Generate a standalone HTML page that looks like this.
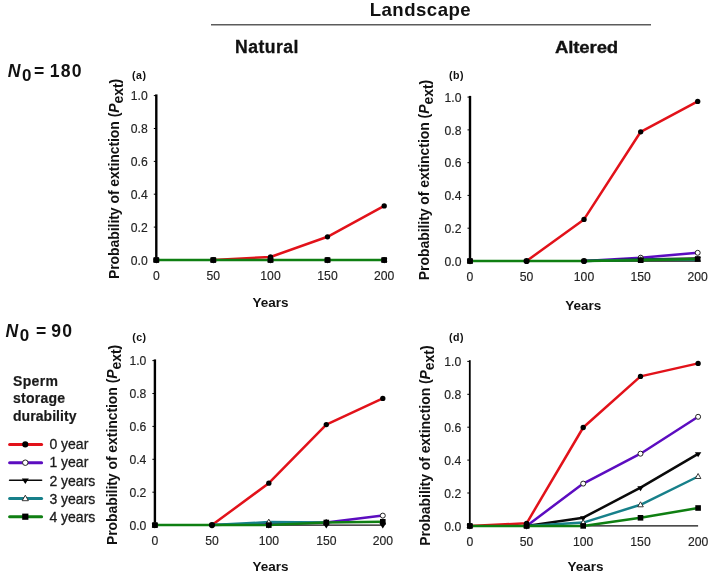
<!DOCTYPE html>
<html><head><meta charset="utf-8"><style>
html,body{margin:0;padding:0;background:#fff;}
svg{display:block;will-change:transform;}
text{font-family:"Liberation Sans", sans-serif;}
.tl{font-size:12.2px;fill:#222;stroke:#222;stroke-width:0.15px;}
.pl{font-size:10.6px;font-weight:bold;fill:#111;letter-spacing:0.5px;}
.yt{font-size:14px;font-weight:bold;fill:#111;}
.sub{font-size:14px;}
.xt{font-size:13.5px;font-weight:bold;fill:#111;}
.hd{font-size:17px;font-weight:bold;fill:#111;}
.hd2{font-size:18.6px;font-weight:bold;fill:#111;}
.nl{font-size:17.6px;font-weight:bold;fill:#111;}
.nsub{font-size:17px;font-weight:bold;fill:#111;}
.lt{font-size:14px;font-weight:bold;fill:#1a1a1a;stroke:#1a1a1a;stroke-width:0.2px;}
.lg{font-size:14px;fill:#1a1a1a;stroke:#1a1a1a;stroke-width:0.3px;}
</style></head><body>
<svg width="709" height="574" viewBox="0 0 709 574">
<line x1="156.3" y1="94.4" x2="156.3" y2="260.0" stroke="#000" stroke-width="2.4"/>
<line x1="156.3" y1="260.0" x2="384.2" y2="260.0" stroke="#111" stroke-width="1.3"/>
<line x1="153.8" y1="260.0" x2="156.3" y2="260.0" stroke="#000" stroke-width="1"/>
<text x="147.8" y="264.7" class="tl" text-anchor="end">0.0</text>
<line x1="153.8" y1="227.1" x2="156.3" y2="227.1" stroke="#000" stroke-width="1"/>
<text x="147.8" y="231.8" class="tl" text-anchor="end">0.2</text>
<line x1="153.8" y1="194.2" x2="156.3" y2="194.2" stroke="#000" stroke-width="1"/>
<text x="147.8" y="198.9" class="tl" text-anchor="end">0.4</text>
<line x1="153.8" y1="161.4" x2="156.3" y2="161.4" stroke="#000" stroke-width="1"/>
<text x="147.8" y="166.1" class="tl" text-anchor="end">0.6</text>
<line x1="153.8" y1="128.5" x2="156.3" y2="128.5" stroke="#000" stroke-width="1"/>
<text x="147.8" y="133.2" class="tl" text-anchor="end">0.8</text>
<line x1="153.8" y1="95.6" x2="156.3" y2="95.6" stroke="#000" stroke-width="1"/>
<text x="147.8" y="100.3" class="tl" text-anchor="end">1.0</text>
<text x="156.3" y="279.6" class="tl" text-anchor="middle">0</text>
<text x="213.3" y="279.6" class="tl" text-anchor="middle">50</text>
<text x="270.5" y="279.6" class="tl" text-anchor="middle">100</text>
<text x="327.5" y="279.6" class="tl" text-anchor="middle">150</text>
<text x="384.2" y="279.6" class="tl" text-anchor="middle">200</text>
<polyline points="213.3,260.0 270.5,257.0 327.5,236.8 384.2,205.9" fill="none" stroke="#e2121a" stroke-width="2.5" stroke-linejoin="round"/>
<polyline points="156.3,260.0 213.3,260.0 270.5,260.0 327.5,260.0 384.2,260.0" fill="none" stroke="#0f7f12" stroke-width="2.5" stroke-linejoin="round"/>
<circle cx="156.3" cy="260.0" r="2.67" fill="#000"/>
<circle cx="213.3" cy="260.0" r="2.67" fill="#000"/>
<circle cx="270.5" cy="257.0" r="2.67" fill="#000"/>
<circle cx="327.5" cy="236.8" r="2.67" fill="#000"/>
<circle cx="384.2" cy="205.9" r="2.67" fill="#000"/>
<circle cx="156.3" cy="260.0" r="2.50" fill="#fff" stroke="#222" stroke-width="1"/>
<circle cx="213.3" cy="260.0" r="2.50" fill="#fff" stroke="#222" stroke-width="1"/>
<circle cx="270.5" cy="260.0" r="2.50" fill="#fff" stroke="#222" stroke-width="1"/>
<circle cx="327.5" cy="260.0" r="2.50" fill="#fff" stroke="#222" stroke-width="1"/>
<circle cx="384.2" cy="260.0" r="2.50" fill="#fff" stroke="#222" stroke-width="1"/>
<path d="M153.1 258.5L159.5 258.5L156.3 263.5Z" fill="#000"/>
<path d="M210.1 258.5L216.5 258.5L213.3 263.5Z" fill="#000"/>
<path d="M267.3 258.5L273.7 258.5L270.5 263.5Z" fill="#000"/>
<path d="M324.3 258.5L330.7 258.5L327.5 263.5Z" fill="#000"/>
<path d="M381.0 258.5L387.4 258.5L384.2 263.5Z" fill="#000"/>
<path d="M153.5 262.0L159.1 262.0L156.3 257.0Z" fill="#fff" stroke="#222" stroke-width="0.9"/>
<path d="M210.5 262.0L216.1 262.0L213.3 257.0Z" fill="#fff" stroke="#222" stroke-width="0.9"/>
<path d="M267.7 262.0L273.3 262.0L270.5 257.0Z" fill="#fff" stroke="#222" stroke-width="0.9"/>
<path d="M324.7 262.0L330.3 262.0L327.5 257.0Z" fill="#fff" stroke="#222" stroke-width="0.9"/>
<path d="M381.4 262.0L387.0 262.0L384.2 257.0Z" fill="#fff" stroke="#222" stroke-width="0.9"/>
<rect x="153.5" y="257.2" width="5.6" height="5.6" fill="#000"/>
<rect x="210.5" y="257.2" width="5.6" height="5.6" fill="#000"/>
<rect x="267.7" y="257.2" width="5.6" height="5.6" fill="#000"/>
<rect x="324.7" y="257.2" width="5.6" height="5.6" fill="#000"/>
<rect x="381.4" y="257.2" width="5.6" height="5.6" fill="#000"/>
<text x="132" y="79.3" class="pl">(a)</text>
<text transform="translate(118.6,178.9) rotate(-90)" class="yt" text-anchor="middle" textLength="200.4" lengthAdjust="spacing">Probability of extinction (<tspan font-style="italic">P</tspan><tspan class="sub" dy="4">ext</tspan><tspan dy="-2.5">)</tspan></text>
<text x="270.6" y="306.8" class="xt" text-anchor="middle">Years</text>
<line x1="470.0" y1="95.9" x2="470.0" y2="261.0" stroke="#000" stroke-width="2.4"/>
<line x1="470.0" y1="261.0" x2="697.7" y2="261.0" stroke="#111" stroke-width="1.3"/>
<line x1="467.5" y1="261.0" x2="470.0" y2="261.0" stroke="#000" stroke-width="1"/>
<text x="461.5" y="265.7" class="tl" text-anchor="end">0.0</text>
<line x1="467.5" y1="228.2" x2="470.0" y2="228.2" stroke="#000" stroke-width="1"/>
<text x="461.5" y="232.9" class="tl" text-anchor="end">0.2</text>
<line x1="467.5" y1="195.4" x2="470.0" y2="195.4" stroke="#000" stroke-width="1"/>
<text x="461.5" y="200.1" class="tl" text-anchor="end">0.4</text>
<line x1="467.5" y1="162.7" x2="470.0" y2="162.7" stroke="#000" stroke-width="1"/>
<text x="461.5" y="167.4" class="tl" text-anchor="end">0.6</text>
<line x1="467.5" y1="129.9" x2="470.0" y2="129.9" stroke="#000" stroke-width="1"/>
<text x="461.5" y="134.6" class="tl" text-anchor="end">0.8</text>
<line x1="467.5" y1="97.1" x2="470.0" y2="97.1" stroke="#000" stroke-width="1"/>
<text x="461.5" y="101.8" class="tl" text-anchor="end">1.0</text>
<text x="470.0" y="280.6" class="tl" text-anchor="middle">0</text>
<text x="526.6" y="280.6" class="tl" text-anchor="middle">50</text>
<text x="584.0" y="280.6" class="tl" text-anchor="middle">100</text>
<text x="640.7" y="280.6" class="tl" text-anchor="middle">150</text>
<text x="697.7" y="280.6" class="tl" text-anchor="middle">200</text>
<polyline points="526.6,261.0 584.0,219.4 640.7,131.8 697.7,101.4" fill="none" stroke="#e2121a" stroke-width="2.5" stroke-linejoin="round"/>
<polyline points="584.0,261.0 640.7,257.7 697.7,252.8" fill="none" stroke="#5c0cc0" stroke-width="2.5" stroke-linejoin="round"/>
<polyline points="584.0,261.0 640.7,259.4 697.7,258.5" fill="none" stroke="#0a0a0a" stroke-width="2.5" stroke-linejoin="round"/>
<polyline points="584.0,261.0 640.7,259.7 697.7,259.4" fill="none" stroke="#17808a" stroke-width="2.5" stroke-linejoin="round"/>
<polyline points="470.0,261.0 526.6,261.0 584.0,261.0 640.7,260.2 697.7,259.0" fill="none" stroke="#0f7f12" stroke-width="2.5" stroke-linejoin="round"/>
<circle cx="470.0" cy="261.0" r="2.67" fill="#000"/>
<circle cx="584.0" cy="219.4" r="2.67" fill="#000"/>
<circle cx="640.7" cy="131.8" r="2.67" fill="#000"/>
<circle cx="697.7" cy="101.4" r="2.67" fill="#000"/>
<circle cx="470.0" cy="261.0" r="2.50" fill="#fff" stroke="#222" stroke-width="1"/>
<circle cx="640.7" cy="257.7" r="2.50" fill="#fff" stroke="#222" stroke-width="1"/>
<circle cx="697.7" cy="252.8" r="2.50" fill="#fff" stroke="#222" stroke-width="1"/>
<path d="M466.8 259.5L473.2 259.5L470.0 264.5Z" fill="#000"/>
<path d="M637.5 257.9L643.9 257.9L640.7 262.9Z" fill="#000"/>
<path d="M694.5 257.0L700.9 257.0L697.7 262.0Z" fill="#000"/>
<path d="M467.2 263.0L472.8 263.0L470.0 258.0Z" fill="#fff" stroke="#222" stroke-width="0.9"/>
<path d="M637.9 261.7L643.5 261.7L640.7 256.7Z" fill="#fff" stroke="#222" stroke-width="0.9"/>
<path d="M694.9 261.4L700.5 261.4L697.7 256.4Z" fill="#fff" stroke="#222" stroke-width="0.9"/>
<rect x="467.2" y="258.2" width="5.6" height="5.6" fill="#000"/>
<rect x="637.9" y="257.4" width="5.6" height="5.6" fill="#000"/>
<rect x="694.9" y="256.2" width="5.6" height="5.6" fill="#000"/>
<circle cx="526.6" cy="261.0" r="3.1" fill="#000"/>
<circle cx="584.0" cy="261.0" r="3.1" fill="#000"/>
<text x="449" y="79.3" class="pl">(b)</text>
<text transform="translate(428.8,180.0) rotate(-90)" class="yt" text-anchor="middle" textLength="200.4" lengthAdjust="spacing">Probability of extinction (<tspan font-style="italic">P</tspan><tspan class="sub" dy="4">ext</tspan><tspan dy="-2.5">)</tspan></text>
<text x="583.3" y="309.6" class="xt" text-anchor="middle">Years</text>
<line x1="154.9" y1="359.4" x2="154.9" y2="525.1" stroke="#000" stroke-width="2.4"/>
<line x1="154.9" y1="525.1" x2="382.8" y2="525.1" stroke="#111" stroke-width="1.3"/>
<line x1="152.4" y1="525.1" x2="154.9" y2="525.1" stroke="#000" stroke-width="1"/>
<text x="146.4" y="529.8" class="tl" text-anchor="end">0.0</text>
<line x1="152.4" y1="492.2" x2="154.9" y2="492.2" stroke="#000" stroke-width="1"/>
<text x="146.4" y="496.9" class="tl" text-anchor="end">0.2</text>
<line x1="152.4" y1="459.3" x2="154.9" y2="459.3" stroke="#000" stroke-width="1"/>
<text x="146.4" y="464.0" class="tl" text-anchor="end">0.4</text>
<line x1="152.4" y1="426.4" x2="154.9" y2="426.4" stroke="#000" stroke-width="1"/>
<text x="146.4" y="431.1" class="tl" text-anchor="end">0.6</text>
<line x1="152.4" y1="393.5" x2="154.9" y2="393.5" stroke="#000" stroke-width="1"/>
<text x="146.4" y="398.2" class="tl" text-anchor="end">0.8</text>
<line x1="152.4" y1="360.6" x2="154.9" y2="360.6" stroke="#000" stroke-width="1"/>
<text x="146.4" y="365.3" class="tl" text-anchor="end">1.0</text>
<text x="154.9" y="544.7" class="tl" text-anchor="middle">0</text>
<text x="212.0" y="544.7" class="tl" text-anchor="middle">50</text>
<text x="268.8" y="544.7" class="tl" text-anchor="middle">100</text>
<text x="326.3" y="544.7" class="tl" text-anchor="middle">150</text>
<text x="382.8" y="544.7" class="tl" text-anchor="middle">200</text>
<polyline points="212.0,525.1 268.8,483.2 326.3,424.6 382.8,398.4" fill="none" stroke="#e2121a" stroke-width="2.5" stroke-linejoin="round"/>
<polyline points="212.0,525.1 268.8,523.8 326.3,522.5 382.8,515.6" fill="none" stroke="#5c0cc0" stroke-width="2.5" stroke-linejoin="round"/>
<polyline points="212.0,525.1 268.8,522.1 326.3,522.5" fill="none" stroke="#17808a" stroke-width="2.5" stroke-linejoin="round"/>
<polyline points="154.9,525.1 212.0,525.1 268.8,525.1 326.3,522.5 382.8,521.8" fill="none" stroke="#0f7f12" stroke-width="2.5" stroke-linejoin="round"/>
<circle cx="154.9" cy="525.1" r="2.67" fill="#000"/>
<circle cx="268.8" cy="483.2" r="2.67" fill="#000"/>
<circle cx="326.3" cy="424.6" r="2.67" fill="#000"/>
<circle cx="382.8" cy="398.4" r="2.67" fill="#000"/>
<circle cx="154.9" cy="525.1" r="2.50" fill="#fff" stroke="#222" stroke-width="1"/>
<circle cx="268.8" cy="523.8" r="2.50" fill="#fff" stroke="#222" stroke-width="1"/>
<circle cx="326.3" cy="522.5" r="2.50" fill="#fff" stroke="#222" stroke-width="1"/>
<circle cx="382.8" cy="515.6" r="2.50" fill="#fff" stroke="#222" stroke-width="1"/>
<path d="M151.7 523.6L158.1 523.6L154.9 528.6Z" fill="#000"/>
<path d="M265.6 523.6L272.0 523.6L268.8 528.6Z" fill="#000"/>
<path d="M323.1 523.6L329.5 523.6L326.3 528.6Z" fill="#000"/>
<path d="M379.6 523.6L386.0 523.6L382.8 528.6Z" fill="#000"/>
<path d="M152.1 527.1L157.7 527.1L154.9 522.1Z" fill="#fff" stroke="#222" stroke-width="0.9"/>
<path d="M266.0 524.1L271.6 524.1L268.8 519.1Z" fill="#fff" stroke="#222" stroke-width="0.9"/>
<path d="M323.5 524.5L329.1 524.5L326.3 519.5Z" fill="#fff" stroke="#222" stroke-width="0.9"/>
<path d="M380.0 523.8L385.6 523.8L382.8 518.8Z" fill="#fff" stroke="#222" stroke-width="0.9"/>
<rect x="152.1" y="522.3" width="5.6" height="5.6" fill="#000"/>
<rect x="266.0" y="522.3" width="5.6" height="5.6" fill="#000"/>
<rect x="323.5" y="519.7" width="5.6" height="5.6" fill="#000"/>
<rect x="380.0" y="519.0" width="5.6" height="5.6" fill="#000"/>
<circle cx="212.0" cy="525.1" r="3.1" fill="#000"/>
<text x="132.2" y="340.5" class="pl">(c)</text>
<text transform="translate(117.4,444.9) rotate(-90)" class="yt" text-anchor="middle" textLength="200.4" lengthAdjust="spacing">Probability of extinction (<tspan font-style="italic">P</tspan><tspan class="sub" dy="4">ext</tspan><tspan dy="-2.5">)</tspan></text>
<text x="270.6" y="570.6" class="xt" text-anchor="middle">Years</text>
<line x1="469.8" y1="360.2" x2="469.8" y2="525.9" stroke="#000" stroke-width="1.8"/>
<line x1="469.8" y1="525.9" x2="698.1" y2="525.9" stroke="#111" stroke-width="1.3"/>
<line x1="467.3" y1="525.9" x2="469.8" y2="525.9" stroke="#000" stroke-width="1"/>
<text x="461.3" y="530.6" class="tl" text-anchor="end">0.0</text>
<line x1="467.3" y1="493.0" x2="469.8" y2="493.0" stroke="#000" stroke-width="1"/>
<text x="461.3" y="497.7" class="tl" text-anchor="end">0.2</text>
<line x1="467.3" y1="460.1" x2="469.8" y2="460.1" stroke="#000" stroke-width="1"/>
<text x="461.3" y="464.8" class="tl" text-anchor="end">0.4</text>
<line x1="467.3" y1="427.2" x2="469.8" y2="427.2" stroke="#000" stroke-width="1"/>
<text x="461.3" y="431.9" class="tl" text-anchor="end">0.6</text>
<line x1="467.3" y1="394.3" x2="469.8" y2="394.3" stroke="#000" stroke-width="1"/>
<text x="461.3" y="399.0" class="tl" text-anchor="end">0.8</text>
<line x1="467.3" y1="361.4" x2="469.8" y2="361.4" stroke="#000" stroke-width="1"/>
<text x="461.3" y="366.1" class="tl" text-anchor="end">1.0</text>
<text x="469.8" y="545.5" class="tl" text-anchor="middle">0</text>
<text x="526.6" y="545.5" class="tl" text-anchor="middle">50</text>
<text x="583.2" y="545.5" class="tl" text-anchor="middle">100</text>
<text x="640.5" y="545.5" class="tl" text-anchor="middle">150</text>
<text x="698.1" y="545.5" class="tl" text-anchor="middle">200</text>
<polyline points="469.8,525.9 526.6,523.3 583.2,427.5 640.5,376.4 698.1,363.4" fill="none" stroke="#e2121a" stroke-width="2.5" stroke-linejoin="round"/>
<polyline points="526.6,525.9 583.2,483.6 640.5,453.7 698.1,416.8" fill="none" stroke="#5c0cc0" stroke-width="2.5" stroke-linejoin="round"/>
<polyline points="526.6,525.9 583.2,517.7 640.5,487.7 698.1,453.8" fill="none" stroke="#0a0a0a" stroke-width="2.5" stroke-linejoin="round"/>
<polyline points="526.6,525.9 583.2,522.6 640.5,504.8 698.1,476.5" fill="none" stroke="#17808a" stroke-width="2.5" stroke-linejoin="round"/>
<polyline points="469.8,525.9 526.6,525.9 583.2,525.9 640.5,517.8 698.1,508.0" fill="none" stroke="#0f7f12" stroke-width="2.5" stroke-linejoin="round"/>
<circle cx="469.8" cy="525.9" r="2.67" fill="#000"/>
<circle cx="526.6" cy="523.3" r="2.67" fill="#000"/>
<circle cx="583.2" cy="427.5" r="2.67" fill="#000"/>
<circle cx="640.5" cy="376.4" r="2.67" fill="#000"/>
<circle cx="698.1" cy="363.4" r="2.67" fill="#000"/>
<circle cx="469.8" cy="525.9" r="2.50" fill="#fff" stroke="#222" stroke-width="1"/>
<circle cx="526.6" cy="525.9" r="2.50" fill="#fff" stroke="#222" stroke-width="1"/>
<circle cx="583.2" cy="483.6" r="2.50" fill="#fff" stroke="#222" stroke-width="1"/>
<circle cx="640.5" cy="453.7" r="2.50" fill="#fff" stroke="#222" stroke-width="1"/>
<circle cx="698.1" cy="416.8" r="2.50" fill="#fff" stroke="#222" stroke-width="1"/>
<path d="M466.6 524.4L473.0 524.4L469.8 529.4Z" fill="#000"/>
<path d="M523.4 524.4L529.8 524.4L526.6 529.4Z" fill="#000"/>
<path d="M580.0 516.2L586.4 516.2L583.2 521.2Z" fill="#000"/>
<path d="M637.3 486.2L643.7 486.2L640.5 491.2Z" fill="#000"/>
<path d="M694.9 452.3L701.3 452.3L698.1 457.3Z" fill="#000"/>
<path d="M467.0 527.9L472.6 527.9L469.8 522.9Z" fill="#fff" stroke="#222" stroke-width="0.9"/>
<path d="M523.8 527.9L529.4 527.9L526.6 522.9Z" fill="#fff" stroke="#222" stroke-width="0.9"/>
<path d="M580.4 524.6L586.0 524.6L583.2 519.6Z" fill="#fff" stroke="#222" stroke-width="0.9"/>
<path d="M637.7 506.8L643.3 506.8L640.5 501.8Z" fill="#fff" stroke="#222" stroke-width="0.9"/>
<path d="M695.3 478.5L700.9 478.5L698.1 473.5Z" fill="#fff" stroke="#222" stroke-width="0.9"/>
<rect x="467.0" y="523.1" width="5.6" height="5.6" fill="#000"/>
<rect x="523.8" y="523.1" width="5.6" height="5.6" fill="#000"/>
<rect x="580.4" y="523.1" width="5.6" height="5.6" fill="#000"/>
<rect x="637.7" y="515.0" width="5.6" height="5.6" fill="#000"/>
<rect x="695.3" y="505.2" width="5.6" height="5.6" fill="#000"/>
<text x="449" y="341.3" class="pl">(d)</text>
<text transform="translate(429.6,445.6) rotate(-90)" class="yt" text-anchor="middle" textLength="200.4" lengthAdjust="spacing">Probability of extinction (<tspan font-style="italic">P</tspan><tspan class="sub" dy="4">ext</tspan><tspan dy="-2.5">)</tspan></text>
<text x="585.5" y="571.2" class="xt" text-anchor="middle">Years</text>
<text x="420.2" y="16.3" class="hd2" text-anchor="middle" textLength="101" lengthAdjust="spacing">Landscape</text>
<line x1="211" y1="24.7" x2="651" y2="24.7" stroke="#5c5c5c" stroke-width="1.4"/>
<text x="266.7" y="53" class="hd" style="font-size:17.6px" stroke="#111" stroke-width="0.3" text-anchor="middle" textLength="63.5" lengthAdjust="spacing">Natural</text>
<text transform="translate(586.6,53.3) scale(1,0.92)" x="0" y="0" class="hd" style="font-size:18.6px" stroke="#111" stroke-width="0.35" text-anchor="middle" textLength="63.2" lengthAdjust="spacing">Altered</text>
<text x="7.8" y="76.9" class="nl" font-style="italic">N</text>
<text x="21.9" y="80.6" class="nsub">0</text>
<text x="33.9" y="76.9" class="nl">=</text>
<text x="49.8" y="76.9" class="nl" letter-spacing="1.2">180</text>
<text x="5.4" y="337.3" class="nl" font-style="italic">N</text>
<text x="19.8" y="341.0" class="nsub">0</text>
<text x="36.0" y="337.3" class="nl">=</text>
<text x="51.2" y="337.3" class="nl" letter-spacing="1.2">90</text>
<text x="13" y="385.6" class="lt" textLength="45" lengthAdjust="spacing">Sperm</text>
<text x="13" y="403.3" class="lt" textLength="52" lengthAdjust="spacing">storage</text>
<text x="13" y="420.5" class="lt" textLength="63.5" lengthAdjust="spacing">durability</text>
<line x1="9.6" y1="444.4" x2="41.6" y2="444.4" stroke="#e2121a" stroke-width="3.0" stroke-linecap="round"/>
<circle cx="25.3" cy="444.4" r="3.04" fill="#000"/>
<text x="49.4" y="448.8" class="lg">0 year</text>
<line x1="9.6" y1="462.7" x2="41.6" y2="462.7" stroke="#5c0cc0" stroke-width="3.0" stroke-linecap="round"/>
<circle cx="25.3" cy="462.7" r="2.75" fill="#fff" stroke="#222" stroke-width="1"/>
<text x="49.4" y="467.4" class="lg">1 year</text>
<line x1="9.6" y1="480.2" x2="41.6" y2="480.2" stroke="#0a0a0a" stroke-width="1.6" stroke-linecap="round"/>
<path d="M21.8 478.6L28.8 478.6L25.3 484.1Z" fill="#000"/>
<text x="49.4" y="485.9" class="lg">2 years</text>
<line x1="9.6" y1="498.5" x2="41.6" y2="498.5" stroke="#17808a" stroke-width="3.0" stroke-linecap="round"/>
<path d="M22.2 500.7L28.4 500.7L25.3 495.2Z" fill="#fff" stroke="#222" stroke-width="0.9"/>
<text x="49.4" y="503.6" class="lg">3 years</text>
<line x1="9.6" y1="516.7" x2="41.6" y2="516.7" stroke="#0f7f12" stroke-width="3.0" stroke-linecap="round"/>
<rect x="22.2" y="513.6" width="6.2" height="6.2" fill="#000"/>
<text x="49.4" y="521.6" class="lg">4 years</text>
</svg>
</body></html>
